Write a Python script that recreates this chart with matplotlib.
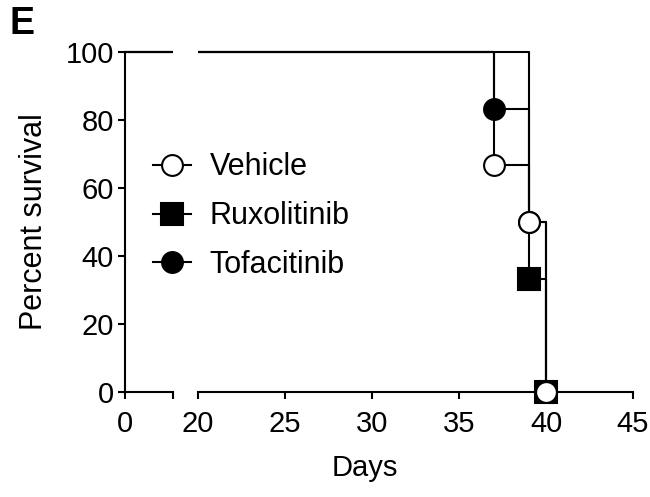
import matplotlib
matplotlib.use("Agg")
import matplotlib.pyplot as plt
from matplotlib.lines import Line2D

plt.rcParams["font.family"] = ["Liberation Sans", "DejaVu Sans"]

# Kaplan-Meier steps (day of event, percent surviving after it)
vehicle_days = [0, 37, 39, 40]
vehicle_surv = [100, 66.7, 50, 0]
ruxo_days = [0, 39, 40]
ruxo_surv = [100, 33.3, 0]
tofa_days = [0, 37, 39, 40]
tofa_surv = [100, 83.3, 50, 0]

groups = ["Vehicle", "Ruxolitinib", "Tofacitinib"]
y_ticks = [0, 20, 40, 60, 80, 100]
x_ticks_right = [20, 25, 30, 35, 40, 45]

series = [
    (tofa_days, tofa_surv, dict(marker="o", mfc="black", ms=15)),
    (ruxo_days, ruxo_surv, dict(marker="s", mfc="black", ms=16)),
    (vehicle_days, vehicle_surv, dict(marker="o", mfc="white", ms=15)),
]

W, H = 650, 497
fig = plt.figure(figsize=(W / 100, H / 100), dpi=100)
# y: 0 -> px 392, 100 -> px 52, axes padded by 2 units each side
ppu = (392 - 52) / 100
bot = 392 + 2 * ppu
top = 52 - 2 * ppu
ax_l = fig.add_axes([125 / W, 1 - bot / H, 48 / W, (bot - top) / H])
ax_r = fig.add_axes([198 / W, 1 - bot / H, 435 / W, (bot - top) / H])

lw = 1.5
for ax in (ax_l, ax_r):
    ax.set_ylim(-2, 102)
    ax.spines["top"].set_visible(False)
    ax.spines["right"].set_visible(False)
    ax.spines["bottom"].set_position(("data", 0))
    ax.spines["bottom"].set_linewidth(lw)
    ax.spines["left"].set_linewidth(lw)
    ax.tick_params(width=lw, length=5, labelsize=21, direction="out")
    ax.tick_params(axis="x", pad=8)
    ax.tick_params(axis="y", pad=3)
    ax.patch.set_alpha(0)
    for d, s, st in series:
        ax.step(d, s, where="post", color="black", lw=lw, zorder=2)

ax_l.set_xlim(0, 48 / 17.4)
ax_l.set_xticks([0, 48 / 17.4])
ax_l.set_xticklabels(["0", ""])
ax_l.set_yticks(y_ticks)
ax_l.spines["left"].set_bounds(0, 100)
ax_l.set_ylabel("Percent survival", fontsize=22, va="center")
ax_l.yaxis.set_label_coords(-(125 - 34) / 48, 0.5)

ax_r.set_xlim(20, 45)
ax_r.set_xticks(x_ticks_right)
ax_r.spines["left"].set_visible(False)
ax_r.tick_params(axis="y", left=False, labelleft=False)
ax_r.set_xlabel("Days", fontsize=21)
ax_r.xaxis.set_label_coords((365 - 198) / 435, -(468 - bot) / (bot - top))
ax_r.xaxis.label.set_va("center")

# event markers
for d, s, st in series:
    ax_r.plot(d[1:], s[1:], ls="none", mec="black", mew=1.5, clip_on=False,
              zorder=3, **st)

handles = [
    Line2D([], [], color="black", lw=lw, marker="o", mfc="white", mec="black", mew=1.5, ms=15),
    Line2D([], [], color="black", lw=lw, marker="s", mfc="black", mec="black", mew=1.5, ms=16),
    Line2D([], [], color="black", lw=lw, marker="o", mfc="black", mec="black", mew=1.5, ms=15),
]
fig.legend(handles, groups, loc="upper left", bbox_to_anchor=(138 / W, 1 - 137 / H),
           frameon=False, fontsize=22, handlelength=1.25, handletextpad=0.6,
           labelspacing=0.62, borderpad=0)

fig.text(10 / W, 1 - 6 / H, "E", fontsize=27, fontweight="bold", va="top", ha="left")

fig.savefig("out.png", dpi=100)
